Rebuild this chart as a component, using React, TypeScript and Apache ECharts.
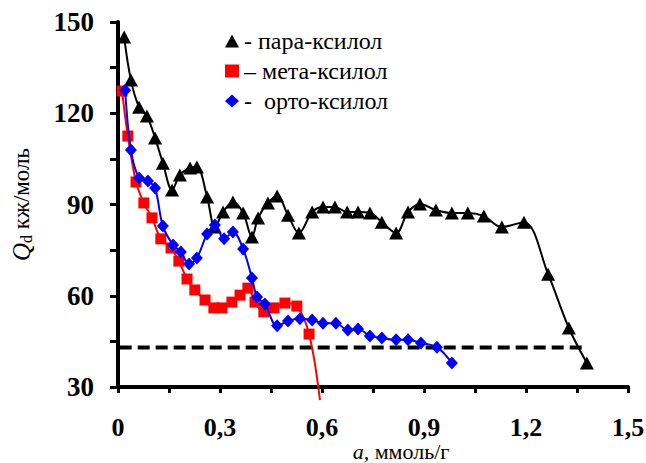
import React, { useEffect, useRef } from "react";
import * as echarts from "echarts";

// пара-ксилол
const paraA = [0.018, 0.038, 0.062, 0.085, 0.109, 0.132, 0.159, 0.182, 0.212, 0.232, 0.262, 0.285, 0.309, 0.338, 0.368, 0.394, 0.412, 0.441, 0.468, 0.5, 0.532, 0.571, 0.603, 0.638, 0.674, 0.706, 0.741, 0.776, 0.818, 0.853, 0.888, 0.935, 0.982, 1.029, 1.076, 1.129, 1.194, 1.265, 1.326, 1.379];
const paraQ = [145.1, 130.9, 122.0, 119.1, 111.9, 103.6, 94.8, 99.7, 102.0, 102.3, 92.5, 82.6, 87.5, 90.8, 87.2, 79.3, 85.6, 90.5, 92.8, 86.5, 80.6, 87.5, 89.2, 89.2, 87.5, 87.5, 87.2, 84.2, 80.6, 87.5, 90.2, 88.2, 87.2, 87.2, 86.2, 82.6, 84.2, 67.1, 49.4, 37.9];

// мета-ксилол
const metaA = [0.012, 0.029, 0.053, 0.076, 0.1, 0.126, 0.156, 0.179, 0.203, 0.226, 0.256, 0.282, 0.306, 0.335, 0.359, 0.382, 0.403, 0.429, 0.459, 0.491, 0.526, 0.562];
const metaQ = [127.3, 112.5, 97.4, 90.5, 85.6, 78.7, 75.7, 71.4, 65.5, 61.9, 58.6, 56.0, 56.0, 57.9, 60.2, 62.5, 57.9, 54.7, 56.0, 57.6, 56.6, 47.4];
// continuation of the мета curve below the axis (no marker)
const metaTailA = 0.594;
const metaTailQ = 25.7;

// орто-ксилол
const orthoA = [0.021, 0.038, 0.062, 0.088, 0.109, 0.132, 0.162, 0.185, 0.209, 0.232, 0.262, 0.285, 0.312, 0.338, 0.368, 0.394, 0.409, 0.432, 0.468, 0.5, 0.535, 0.571, 0.603, 0.641, 0.676, 0.706, 0.741, 0.776, 0.818, 0.853, 0.891, 0.938, 0.982];
const orthoQ = [127.6, 107.9, 98.7, 97.7, 95.4, 82.9, 76.7, 74.4, 70.4, 72.4, 80.3, 83.3, 78.7, 81.0, 75.4, 65.8, 59.6, 57.3, 50.1, 51.7, 52.4, 52.0, 51.0, 51.0, 48.7, 49.1, 46.8, 46.1, 45.5, 45.5, 44.5, 43.1, 37.9];

// dashed reference level
const dashA = [0.005, 1.37];
const dashQ = [43, 43];

const seriesNames = ["- пара-ксилол", "– мета-ксилол", "-  орто-ксилол"];
const xTicks = { min: 0, max: 1.5, step: 0.15 };
const yTicks = { min: 30, max: 150, step: 15 };

const FONT = "Liberation Serif, Times New Roman, serif";

const zip = (a: number[], b: number[]) => a.map((v, i) => [v, b[i]]);

export default function App() {
  const ref = useRef<HTMLDivElement>(null);
  useEffect(() => {
    if (!ref.current) return;
    const chart = echarts.init(ref.current, null, { renderer: "svg" });
    const metaData: any[] = zip(metaA, metaQ);
    metaData.push({ value: [metaTailA, metaTailQ], symbol: "none" });
    chart.setOption({
      animation: false,
      backgroundColor: "#ffffff",
      textStyle: { fontFamily: FONT },
      grid: { left: 118, right: 18, top: 22, bottom: 76, containLabel: false, outerBoundsMode: "none" },
      legend: {
        orient: "vertical",
        left: 220,
        top: 24,
        itemWidth: 14,
        itemHeight: 13,
        itemGap: 6,
        textStyle: { fontFamily: FONT, fontSize: 24, color: "#000", lineHeight: 24 },
        data: [
          { name: seriesNames[0], icon: "triangle" },
          { name: seriesNames[1], icon: "rect" },
          { name: seriesNames[2], icon: "diamond" },
        ],
      },
      xAxis: {
        type: "value",
        min: xTicks.min,
        max: xTicks.max,
        interval: xTicks.step,
        axisLine: { onZero: false, lineStyle: { color: "#000", width: 4 } },
        axisTick: { length: 6, lineStyle: { color: "#000", width: 3 } },
        splitLine: { show: false },
        axisLabel: {
          margin: 27,
          color: "#000",
          fontFamily: FONT,
          fontSize: 26,
          fontWeight: "bold",
          formatter: (v: number) => {
            const k = Math.round(v * 100);
            if (k % 30 !== 0) return "";
            return String(k / 100).replace(".", ",");
          },
        },
        name: "{i|a,} ммоль/г",
        nameLocation: "middle",
        nameGap: 53,
        nameMoveOverlap: false,
        nameTextStyle: {
          color: "#000",
          fontFamily: FONT,
          fontSize: 22,
          lineHeight: 22,
          padding: [0, 0, 0, 56],
          rich: {
            i: { fontStyle: "italic", fontFamily: FONT, fontSize: 22, lineHeight: 22, color: "#000" },
          },
        },
      },
      yAxis: {
        type: "value",
        min: yTicks.min,
        max: yTicks.max,
        interval: yTicks.step,
        axisLine: { onZero: false, lineStyle: { color: "#000", width: 4 } },
        axisTick: { length: 8, lineStyle: { color: "#000", width: 3 } },
        splitLine: { show: false },
        axisLabel: {
          margin: 24,
          color: "#000",
          fontFamily: FONT,
          fontSize: 27,
          fontWeight: "bold",
          formatter: (v: number) => (Math.round(v) % 30 === 0 ? String(Math.round(v)) : ""),
        },
        name: "{q|Q}{s|d} кж/моль",
        nameLocation: "middle",
        nameRotate: 90,
        nameGap: 84,
        nameMoveOverlap: false,
        nameTextStyle: {
          color: "#000",
          fontFamily: FONT,
          fontSize: 23,
          rich: {
            q: { fontStyle: "italic", fontFamily: FONT, fontSize: 25, color: "#000" },
            s: { fontFamily: FONT, fontSize: 16, color: "#000", verticalAlign: "bottom", padding: [10, 0, 0, 0] },
          },
        },
      },
      series: [
        {
          name: "dash",
          type: "line",
          data: zip(dashA, dashQ),
          symbol: "none",
          silent: true,
          lineStyle: { color: "#000", width: 4, type: [12, 6] },
          z: 1,
        },
        {
          name: seriesNames[0],
          type: "line",
          data: zip(paraA, paraQ),
          smooth: 0.35,
          symbol: "triangle",
          symbolSize: [14, 13],
          itemStyle: { color: "#000" },
          lineStyle: { color: "#000", width: 2 },
          z: 2,
        },
        {
          name: seriesNames[1],
          type: "line",
          data: metaData,
          smooth: 0.35,
          clip: false,
          symbol: "rect",
          symbolSize: 11,
          itemStyle: { color: "#ff0000" },
          lineStyle: { color: "#ff0000", width: 2 },
          z: 3,
        },
        {
          name: seriesNames[2],
          type: "line",
          data: zip(orthoA, orthoQ),
          smooth: 0.35,
          symbol: "diamond",
          symbolSize: [12, 13],
          itemStyle: { color: "#0000ff" },
          lineStyle: { color: "#0000ff", width: 2 },
          z: 4,
        },
      ],
    });
    return () => chart.dispose();
  }, []);
  return (
    <div
      ref={ref}
      style={{ position: "fixed", left: 0, top: 0, width: 646, height: 463, background: "#fff" }}
    />
  );
}
